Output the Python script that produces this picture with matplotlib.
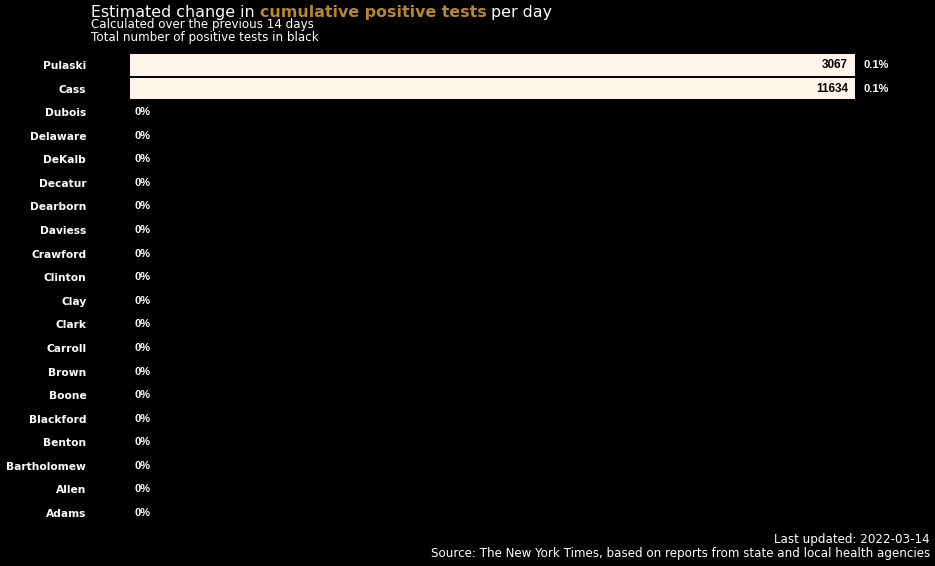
import matplotlib
matplotlib.use('Agg')

import matplotlib.pyplot as plt

counties = ["Pulaski", "Cass", "Dubois", "Delaware", "DeKalb", "Decatur", "Dearborn",
            "Daviess", "Crawford", "Clinton", "Clay", "Clark", "Carroll", "Brown",
            "Boone", "Blackford", "Benton", "Bartholomew", "Allen", "Adams"]
pct_change = [0.1, 0.1] + [0.0] * 18
totals = [3067, 11634] + [None] * 18

bar_color = '#fef4ea'
gold = '#b8862f'

fig = plt.figure(figsize=(9.35, 5.66), dpi=100, facecolor='black')
n = len(counties)
top_px, bot_px = 65, 513
step = (bot_px - top_px) / (n - 1)
ax = fig.add_axes([130 / 935, 1 - (bot_px + step / 2) / 566,
                   (855 - 130) / 935, (bot_px - top_px + step) / 566])
ax.set_facecolor('black')
ypos = list(range(n))
ax.barh(ypos, pct_change, height=0.92, color=bar_color)
ax.set_ylim(n - 0.5, -0.5)
ax.set_xlim(0, 0.1)
for s in ax.spines.values():
    s.set_visible(False)
ax.set_xticks([])
ax.set_yticks(ypos)
ax.set_yticklabels(counties, color='white', fontweight='bold', fontsize=7.7,
                   family='DejaVu Sans')
ax.tick_params(axis='y', length=0, pad=31.5)

for y, v, t in zip(ypos, pct_change, totals):
    label = f"{v:g}%" if v else "0%"
    ax.annotate(label, (v, y), xytext=(6 if v else 3, 0), textcoords='offset points',
                ha='left', va='center', color='white', fontsize=8,
                fontweight='bold', family='Liberation Sans')
    if t is not None:
        ax.annotate(str(t), (v, y), xytext=(-5, 0), textcoords='offset points',
                    ha='right', va='center', color='black', fontsize=8.5,
                    fontweight='bold', family='Liberation Sans')

# title in three pieces
renderer = fig.canvas.get_renderer()
x0 = 91 / 935
ty = 1 - 12 / 566
pieces = [("Estimated change in ", 'white', 'normal'),
          ("cumulative positive tests", gold, 'bold'),
          (" per day", 'white', 'normal')]
x = x0
for txt, col, w in pieces:
    tt = fig.text(x, ty, txt, color=col, fontweight=w, fontsize=11.4, va='center', ha='left')
    bb = tt.get_window_extent(renderer=renderer)
    x += bb.width / fig.bbox.width
fig.text(x0, 1 - 24.5 / 566, "Calculated over the previous 14 days", color='white',
         fontsize=8.6, va='center')
fig.text(x0, 1 - 37 / 566, "Total number of positive tests in black", color='white',
         fontsize=8.6, va='center')

fig.text(930 / 935, 1 - 540 / 566, "Last updated: 2022-03-14", color='white',
         fontsize=8.6, ha='right', va='center')
fig.text(930 / 935, 1 - 553 / 566,
         "Source: The New York Times, based on reports from state and local health agencies",
         color='white', fontsize=8.6, ha='right', va='center')

fig.savefig('out.png', dpi=100, facecolor='black')
